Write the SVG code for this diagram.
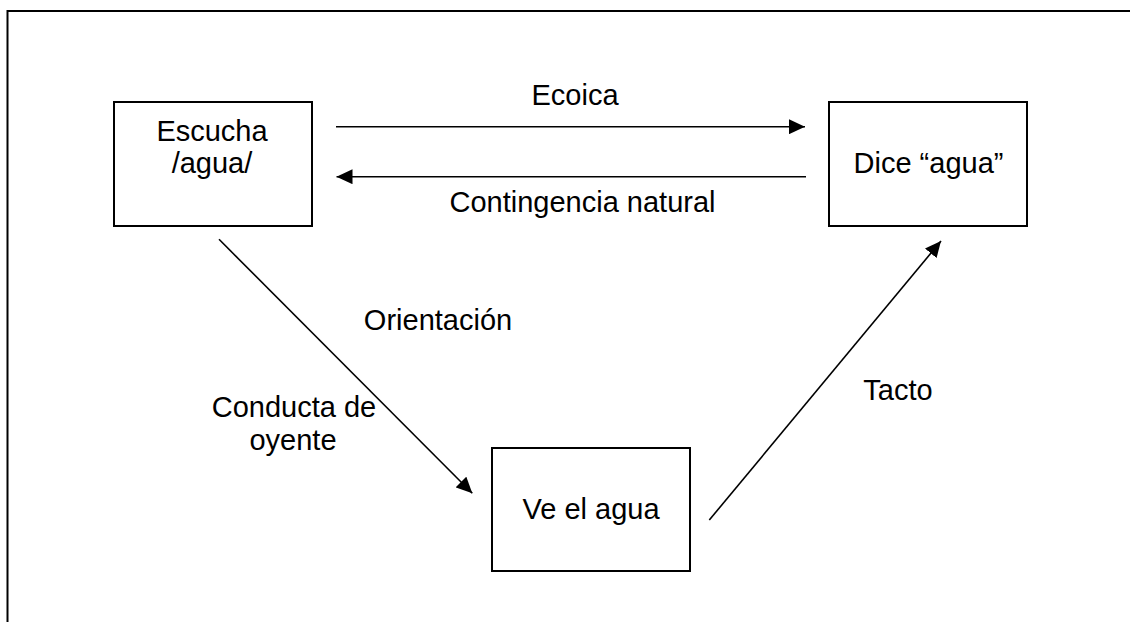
<svg xmlns="http://www.w3.org/2000/svg" width="1130" height="622" viewBox="0 0 1130 622">
<style>
.box{fill:#fff;stroke:#000;stroke-width:2}
.t{font-family:"Liberation Sans",Arial,sans-serif;font-size:29px;fill:#000;text-anchor:middle}
.c{stroke:#000;stroke-width:1.6;fill:none;marker-end:url(#ah)}
</style>
<defs>
<marker id="ah" markerUnits="userSpaceOnUse" markerWidth="16" markerHeight="15" refX="16" refY="7.5" orient="auto">
<path d="M0,0 L16,7.5 L0,15 Z" fill="#000"/>
</marker>
</defs>
<rect width="1130" height="622" fill="#fff"/>
<path d="M7.5,622 L7.5,11 L1130,11" fill="none" stroke="#000" stroke-width="2"/>
<g id="connectors">
<line class="c" x1="336" y1="126.7" x2="805" y2="126.7"/>
<line class="c" x1="806" y1="176.7" x2="336.5" y2="176.7"/>
<line class="c" x1="219" y1="239.3" x2="472.3" y2="493.3"/>
<line class="c" x1="709.3" y1="520" x2="941" y2="241"/>
<text class="t" x="575" y="105">Ecoica</text>
<text class="t" x="582.5" y="211.7">Contingencia natural</text>
<text class="t" x="438" y="330">Orientación</text>
<text class="t" x="294" y="417.3">Conducta de</text>
<text class="t" x="293" y="450">oyente</text>
<text class="t" x="898" y="400">Tacto</text>
</g>
<g id="escucha">
<rect class="box" x="114" y="102" width="198" height="124"/>
<text class="t" x="212" y="141">Escucha</text>
<text class="t" x="212" y="173">/agua/</text>
</g>
<g id="dice">
<rect class="box" x="829" y="102" width="198" height="124"/>
<text class="t" x="928.5" y="173">Dice “agua”</text>
</g>
<g id="ve">
<rect class="box" x="492" y="448" width="198" height="123"/>
<text class="t" x="591" y="519">Ve el agua</text>
</g>
</svg>
